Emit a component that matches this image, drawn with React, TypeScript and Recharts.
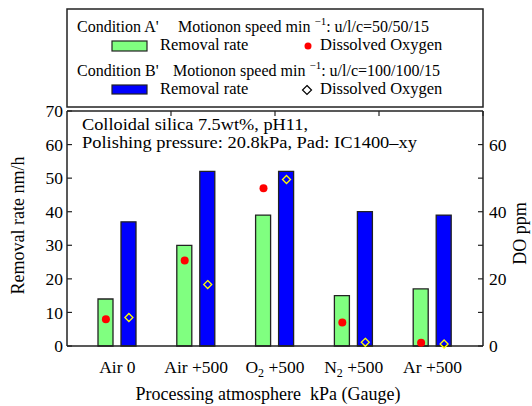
import { ComposedChart, Bar, Scatter, XAxis, YAxis, Label } from "recharts";

const categories = ["Air 0", "Air +500", "O2 +500", "N2 +500", "Ar +500"];
const rateA = [14, 30, 39, 15, 17];
const rateB = [37, 52, 52, 40, 39];
const doA = [8, 25.5, 47, 7, 1];
const doB = [8.5, 18.3, 49.6, 1.1, 0.6];
const leftTicks = [0, 10, 20, 30, 40, 50, 60, 70];
const rightTicks = [0, 10, 20, 30, 40, 50, 60];
const topTicks = [1, 2, 3, 4, 5, 6, 7, 8, 9, 10];

const data = categories.map((cat, i) => ({
  cat,
  rateA: rateA[i],
  rateB: rateB[i],
  doA: doA[i],
  doB: doB[i],
}));

const FONT = '"Liberation Serif", "Times New Roman", serif';
const AXIS = "#222";
const BAR_SIZE = 15;
const BAR_GAP = 8;
const SHIFT = (BAR_SIZE + BAR_GAP) / 2;

function CategoryTick({ x, y, payload }: any) {
  const label: string = payload.value;
  const m = label.match(/^([A-Z])(\d)(.*)$/);
  return (
    <text x={x} y={y + 25} textAnchor="middle" fontFamily={FONT} fontSize={17.5} fill="#000">
      {m ? (
        <>
          <tspan>{m[1]}</tspan>
          <tspan dy={4} fontSize={12}>{m[2]}</tspan>
          <tspan dy={-4}>{m[3]}</tspan>
        </>
      ) : (
        label
      )}
    </text>
  );
}

const RedDot = (p: any) => <circle cx={p.cx - SHIFT} cy={p.cy} r={4} fill="#ff0000" />;

const Diamond = (p: any) => {
  const cx = p.cx + SHIFT;
  const cy = p.cy;
  const s = 4;
  return (
    <path
      d={`M${cx},${cy - s}L${cx + s},${cy}L${cx},${cy + s}L${cx - s},${cy}Z`}
      fill="none"
      stroke="#ffff00"
      strokeWidth={1.3}
    />
  );
};

function Overlay() {
  return (
    <svg
      width={532}
      height={406}
      style={{ position: "absolute", left: 0, top: 0, pointerEvents: "none" }}
      fontFamily={FONT}
    >
      <rect x={67} y={9} width={416} height={98} fill="#fff" stroke={AXIS} strokeWidth={1.5} />
      <text x={77} y={32} fontSize={16} fill="#000">
        Condition A'
        <tspan x={178}>Motionon speed min </tspan>
        <tspan dy={-7} fontSize={11}>−1</tspan>
        <tspan dy={7}>: u/l/c=50/50/15</tspan>
      </text>
      <rect x={112} y={41} width={35} height={10} fill="#80ff80" stroke={AXIS} strokeWidth={1.2} />
      <text x={160} y={50} fontSize={16.5} fill="#000">Removal rate</text>
      <circle cx={308} cy={46} r={3.5} fill="#ff0000" />
      <text x={320} y={50} fontSize={16.5} fill="#000">Dissolved Oxygen</text>

      <text x={77} y={76} fontSize={16} fill="#000">
        Condition B'
        <tspan x={173}>Motionon speed min </tspan>
        <tspan dy={-7} fontSize={11}>−1</tspan>
        <tspan dy={7}>: u/l/c=100/100/15</tspan>
      </text>
      <rect x={112} y={85} width={35} height={9} fill="#0000ff" stroke={AXIS} strokeWidth={1.2} />
      <text x={160} y={94} fontSize={16.5} fill="#000">Removal rate</text>
      <path d="M307,85.5L311.5,90L307,94.5L302.5,90Z" fill="#fff" stroke="#000" strokeWidth={1.2} />
      <text x={320} y={94} fontSize={16.5} fill="#000">Dissolved Oxygen</text>

      <text x={82} y={129.5} fontSize={16} fill="#000" textLength={226} lengthAdjust="spacingAndGlyphs">
        Colloidal silica 7.5wt%, pH11,
      </text>
      <text x={82} y={147.5} fontSize={16} fill="#000" textLength={335} lengthAdjust="spacingAndGlyphs">
        Polishing pressure: 20.8kPa, Pad: IC1400–xy
      </text>
    </svg>
  );
}

export default function App() {
  return (
    <div style={{ position: "absolute", left: 0, top: 0, width: 532, height: 406, background: "#fff" }}>
      <ComposedChart
        width={532}
        height={406}
        data={data}
        margin={{ top: 110, right: 0, bottom: 0, left: 0 }}
        barSize={BAR_SIZE}
        barGap={BAR_GAP}
      >
        <XAxis
          dataKey="cat"
          height={60}
          interval={0}
          padding={{ left: 11, right: 11 }}
          tickLine={false}
          tickSize={0}
          tick={<CategoryTick />}
          axisLine={{ stroke: AXIS, strokeWidth: 1.5 }}
        >
          <Label
            value={"Processing atmosphere\u00a0\u00a0kPa (Gauge)"}
            position="insideBottom"
            offset={6}
            dx={-7}
            style={{ fontFamily: FONT, fontSize: 18, fill: "#000" }}
          />
        </XAxis>
        <XAxis
          xAxisId="top"
          orientation="top"
          type="number"
          domain={[0, 10.58]}
          allowDataOverflow
          ticks={topTicks}
          height={1}
          tickSize={-5}
          tickFormatter={() => ""}
          tickLine={{ stroke: AXIS, strokeWidth: 1.2 }}
          axisLine={{ stroke: AXIS, strokeWidth: 1.5 }}
        />
        <YAxis
          yAxisId="left"
          width={67}
          domain={[0, 70]}
          ticks={leftTicks}
          tickSize={-5}
          tickMargin={9}
          tick={{ fontFamily: FONT, fontSize: 17.5, fill: "#000" }}
          tickLine={{ stroke: AXIS, strokeWidth: 1.2 }}
          axisLine={{ stroke: AXIS, strokeWidth: 1.5 }}
        >
          <Label
            value="Removal rate nm/h"
            angle={-90}
            position="center"
            dx={-15.5}
            dy={-3}
            style={{ fontFamily: FONT, fontSize: 18, fill: "#000" }}
          />
        </YAxis>
        <YAxis
          yAxisId="right"
          orientation="right"
          width={49}
          domain={[0, 70]}
          ticks={rightTicks}
          tickSize={-5}
          tickMargin={11}
          tickFormatter={(v: number) => (v % 20 === 0 ? String(v) : "")}
          tick={{ fontFamily: FONT, fontSize: 17.5, fill: "#000" }}
          tickLine={{ stroke: AXIS, strokeWidth: 1.2 }}
          axisLine={{ stroke: AXIS, strokeWidth: 1.5 }}
        >
          <Label
            value="DO ppm"
            angle={-90}
            position="center"
            dx={12.5}
            dy={5}
            style={{ fontFamily: FONT, fontSize: 18, fill: "#000" }}
          />
        </YAxis>
        <Bar yAxisId="left" dataKey="rateA" fill="#80ff80" stroke={AXIS} strokeWidth={1.3} isAnimationActive={false} />
        <Bar yAxisId="left" dataKey="rateB" fill="#0000ff" stroke={AXIS} strokeWidth={1.3} isAnimationActive={false} />
        <Scatter yAxisId="right" dataKey="doA" shape={RedDot} isAnimationActive={false} />
        <Scatter yAxisId="right" dataKey="doB" shape={Diamond} isAnimationActive={false} />
      </ComposedChart>
      <Overlay />
    </div>
  );
}
